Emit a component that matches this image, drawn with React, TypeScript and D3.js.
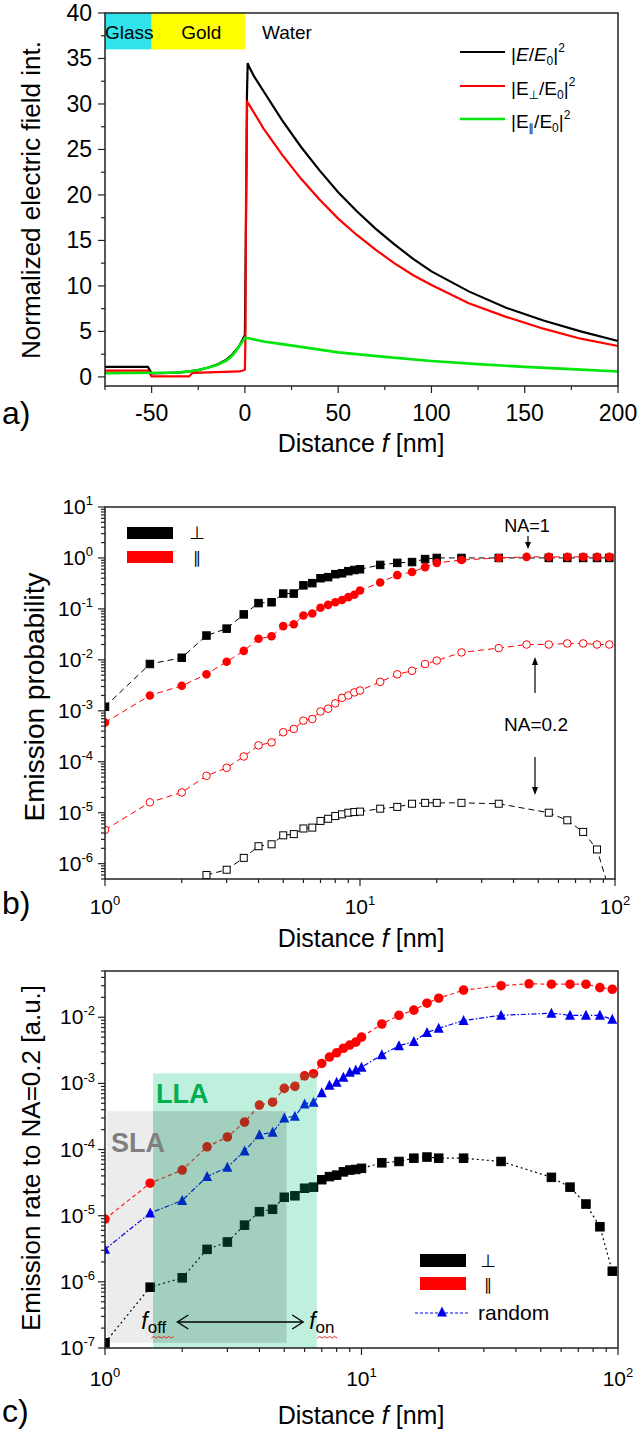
import React from "react";
import * as d3 from "d3";

const FONT = "'Liberation Sans', Arial, Helvetica, sans-serif";
const SYM = "'DejaVu Sans', 'Noto Sans', sans-serif";
const PAR = "∥";

// ---------------- Panel a data ----------------
const layerNames = ["Glass", "Gold", "Water"];
const layerFrom = [-75, -50, 0];
const layerTo = [-50, 0, 200];
const layerTop = 40;
const layerBottom = 36;
const aTicksX = [-50, 0, 50, 100, 150, 200];
const aMinorX = [-75, -25, 25, 75, 125, 175];
const aTicksY = [0, 5, 10, 15, 20, 25, 30, 35, 40];
const aMinorY = [2.5, 7.5, 12.5, 17.5, 22.5, 27.5, 32.5, 37.5];

const aTotalX = [-75, -52, -50, -45, -40, -35, -30, -25, -20, -15, -10, -7, -5, -3, -2, -1, 0, 0.8, 1.1, 1.5, 2, 5, 10, 20, 30, 40, 50, 60, 70, 80, 90, 100, 120, 140, 160, 180, 200];
const aTotalY = [1.1, 1.1, 0.4, 0.42, 0.45, 0.5, 0.6, 0.75, 1.0, 1.35, 1.9, 2.4, 2.9, 3.4, 3.8, 4.2, 4.6, 22, 31, 34.5, 34.2, 33.0, 31.4, 28.2, 25.3, 22.7, 20.3, 18.2, 16.3, 14.6, 13.0, 11.6, 9.4, 7.6, 6.2, 5.0, 3.95];

const aPerpX = [-75, -52, -50, -30, -28, -3, -1, 0, 0.3, 0.6, 1.2, 2, 5, 10, 20, 30, 40, 50, 60, 70, 80, 90, 100, 120, 140, 160, 180, 200];
const aPerpY = [0.7, 0.7, 0.05, 0.05, 0.45, 0.6, 0.7, 0.8, 4.5, 20, 30.2, 30.0, 29.0, 27.3, 24.4, 21.8, 19.5, 17.4, 15.6, 14.0, 12.5, 11.2, 10.1, 8.1, 6.6, 5.3, 4.2, 3.4];

const aParX = [-75, -50, -40, -35, -30, -25, -20, -15, -10, -7, -5, -3, -2, -1, 0, 2, 10, 20, 30, 50, 75, 100, 125, 150, 175, 200];
const aParY = [0.4, 0.45, 0.45, 0.5, 0.6, 0.75, 1.0, 1.3, 1.8, 2.3, 2.8, 3.4, 3.7, 4.0, 4.3, 4.25, 3.9, 3.6, 3.3, 2.7, 2.2, 1.75, 1.4, 1.1, 0.85, 0.6];

// ---------------- Panel b / c shared distances ----------------
const dist = [1, 1.5, 2, 2.5, 3, 3.5, 4, 4.5, 5, 5.5, 6, 6.5, 7, 7.5, 8, 8.5, 9, 9.5, 10, 12, 14, 16, 18, 20, 25, 35, 45, 55, 65, 75, 85, 95];

// Panel b: emission probability
const bPerpNA1 = [1.2e-3, 8.3e-3, 1.1e-2, 3.0e-2, 4.1e-2, 7.8e-2, 0.13, 0.135, 0.2, 0.2, 0.29, 0.32, 0.4, 0.42, 0.48, 0.5, 0.55, 0.58, 0.6, 0.73, 0.8, 0.83, 0.95, 1.0, 1.0, 1.0, null, 1.0, 1.0, 1.0, 1.0, 1.0];
const bParNA1 = [5.9e-4, 2.0e-3, 3.1e-3, 5.2e-3, 9.2e-3, 1.5e-2, 2.6e-2, 2.9e-2, 4.6e-2, 5.0e-2, 7.4e-2, 8.1e-2, 0.105, 0.12, 0.135, 0.15, 0.17, 0.19, 0.23, 0.33, 0.46, 0.53, 0.66, 0.8, 0.91, 1.0, 1.05, 1.05, 1.05, 1.05, 1.05, 1.05];
const bParNA02 = [4.6e-6, 1.6e-5, 2.5e-5, 5.3e-5, 7.6e-5, 1.27e-4, 2.1e-4, 2.4e-4, 3.8e-4, 4.4e-4, 6.4e-4, 6.9e-4, 9.7e-4, 1.1e-3, 1.4e-3, 1.8e-3, 2.0e-3, 2.3e-3, 2.5e-3, 3.7e-3, 5.2e-3, 6.1e-3, 8.3e-3, 9.7e-3, 1.4e-2, 1.7e-2, 2.0e-2, 2.0e-2, 2.1e-2, 2.1e-2, 2.0e-2, 2.0e-2];
const bPerpNA02 = [null, null, null, 6.0e-7, 7.6e-7, 1.3e-6, 2.2e-6, 2.4e-6, 3.6e-6, 3.8e-6, 4.9e-6, 5.1e-6, 6.9e-6, 7.6e-6, 8.6e-6, 9.3e-6, 1.0e-5, 1.03e-5, 1.05e-5, 1.2e-5, 1.3e-5, 1.5e-5, 1.56e-5, 1.56e-5, 1.56e-5, 1.5e-5, null, 1.0e-5, 7.1e-6, 4.2e-6, 1.9e-6, 3.0e-7];

// Panel c: emission rate to NA=0.2
const cPerp = [1.2e-7, 8.3e-7, 1.15e-6, 3.1e-6, 4.0e-6, 7.2e-6, 1.15e-5, 1.25e-5, 1.9e-5, 2.0e-5, 2.6e-5, 2.7e-5, 3.5e-5, 3.9e-5, 4.1e-5, 4.6e-5, 4.9e-5, 5.0e-5, 5.2e-5, 6.3e-5, 6.6e-5, 7.4e-5, 7.7e-5, 7.4e-5, 7.4e-5, 6.6e-5, null, 3.8e-5, 2.7e-5, 1.5e-5, 6.8e-6, 1.45e-6];
const cPar = [8.9e-6, 3.1e-5, 4.9e-5, 1.1e-4, 1.55e-4, 2.6e-4, 4.7e-4, 5.2e-4, 8.4e-4, 9.0e-4, 1.3e-3, 1.4e-3, 2.0e-3, 2.5e-3, 2.9e-3, 3.4e-3, 3.8e-3, 4.2e-3, 5.0e-3, 7.9e-3, 1.07e-2, 1.28e-2, 1.63e-2, 1.94e-2, 2.57e-2, 3.0e-2, 3.2e-2, 3.16e-2, 3.16e-2, 3.16e-2, 2.8e-2, 2.65e-2];
const cRandom = [3.1e-6, 1.1e-5, 1.7e-5, 3.9e-5, 5.4e-5, 9.5e-5, 1.68e-4, 1.82e-4, 3.0e-4, 3.2e-4, 4.9e-4, 5.2e-4, 7.2e-4, 9.4e-4, 1.04e-3, 1.24e-3, 1.47e-3, 1.6e-3, 1.75e-3, 2.7e-3, 3.7e-3, 4.3e-3, 5.9e-3, 6.8e-3, 8.9e-3, 1.07e-2, null, 1.15e-2, 1.07e-2, 1.07e-2, 1.07e-2, 9.3e-3];

// shaded zones in panel c
const slaX = [1, 5.1];
const slaY = [1.2e-7, 3.8e-4];
const llaX = [1.54, 6.7];
const llaY = [1e-7, 1.42e-3];
const fOff = 1.6;
const fOn = 6.6;

// ---------------- Scales ----------------
const xA = d3.scaleLinear().domain([-75, 200]).range([105, 618]);
const yA = d3.scaleLinear().domain([-1, 40]).range([386, 13]);
const xB = d3.scaleLog().domain([1, 100]).range([105, 615]);
const yB = d3.scaleLog().domain([5e-7, 10]).range([879, 507]);
const xC = d3.scaleLog().domain([1, 100]).range([105, 618]);
const yC = d3.scaleLog().domain([1e-7, 0.05]).range([1348, 971]);

function logTicks(lo: number, hi: number) {
  const out: { v: number; major: boolean; e: number }[] = [];
  for (let e = Math.floor(Math.log10(lo)); e <= Math.ceil(Math.log10(hi)); e++) {
    for (let k = 1; k < 10; k++) {
      const v = k * Math.pow(10, e);
      if (v >= lo * 0.999 && v <= hi * 1.001) out.push({ v, major: k === 1, e });
    }
  }
  return out;
}

function pairs(xs: number[], ys: (number | null)[]) {
  const out: [number, number][] = [];
  xs.forEach((x, i) => {
    const y = ys[i];
    if (y != null) out.push([x, y]);
  });
  return out;
}

function Pow({ x, y, e, anchor, size = 21 }: any) {
  return (
    <text x={x} y={y} textAnchor={anchor} fontSize={size} fontFamily={FONT} fill="#000">
      10
      <tspan dy={-size * 0.42} fontSize={size * 0.62}>{e}</tspan>
    </text>
  );
}

function LogAxes({ xs, ys, xLabY, yLabX, size = 21 }: any) {
  const [x0, x1] = xs.range();
  const [y0, y1] = ys.range();
  const xt = logTicks(xs.domain()[0], xs.domain()[1]);
  const yt = logTicks(ys.domain()[0], ys.domain()[1]);
  return (
    <g>
      <rect x={x0} y={y1} width={x1 - x0} height={y0 - y1} fill="none" stroke="#222" strokeWidth={1.5} />
      {xt.map((t, i) => (
        <line key={"x" + i} x1={xs(t.v)} x2={xs(t.v)} y1={y0} y2={y0 + (t.major ? 7 : 4)} stroke="#222" strokeWidth={1.2} />
      ))}
      {yt.map((t, i) => (
        <line key={"y" + i} y1={ys(t.v)} y2={ys(t.v)} x1={x0} x2={x0 - (t.major ? 7 : 4)} stroke="#222" strokeWidth={1.2} />
      ))}
      {xt.filter((t) => t.major).map((t, i) => (
        <Pow key={"xl" + i} x={xs(t.v)} y={xLabY} e={String(t.e)} anchor="middle" size={size} />
      ))}
      {yt.filter((t) => t.major).map((t, i) => (
        <Pow key={"yl" + i} x={yLabX} y={ys(t.v) + 7} e={String(t.e)} anchor="end" size={size} />
      ))}
    </g>
  );
}

function Sq({ cx, cy, s, fill, stroke }: any) {
  return <rect x={cx - s / 2} y={cy - s / 2} width={s} height={s} fill={fill} stroke={stroke} strokeWidth={1} />;
}
function Tri({ cx, cy, s, fill }: any) {
  const h = s * 0.9;
  return <path d={`M${cx},${cy - h / 2 - 1} L${cx + s / 2},${cy + h / 2} L${cx - s / 2},${cy + h / 2} Z`} fill={fill} />;
}

function Wavy({ x, y, w }: any) {
  let d = `M${x},${y}`;
  const n = Math.round(w / 2.5);
  for (let i = 1; i <= n; i++) d += ` L${x + i * 2.5},${y + (i % 2 ? -1.5 : 0)}`;
  return <path d={d} fill="none" stroke="#e03030" strokeWidth={1} />;
}

export default function App() {
  const lineA = d3.line<[number, number]>().x((d) => xA(d[0])).y((d) => yA(d[1]));
  const aTotal = pairs(aTotalX, aTotalY);
  const aPerp = pairs(aPerpX, aPerpY);
  const aPar = pairs(aParX, aParY);
  const layerColors = ["#30e4ea", "#ffff00", "none"];

  const lineB = d3.line<[number, number]>().x((d) => xB(d[0])).y((d) => yB(d[1]));
  const lineC = d3.line<[number, number]>().x((d) => xC(d[0])).y((d) => yC(d[1]));

  const bPN1 = pairs(dist, bPerpNA1);
  const bRN1 = pairs(dist, bParNA1);
  const bRN02 = pairs(dist, bParNA02);
  const bPN02 = pairs(dist, bPerpNA02);
  const cP = pairs(dist, cPerp);
  const cR = pairs(dist, cPar);
  const cRand = pairs(dist, cRandom);

  const bIn = (d: [number, number]) => d[1] >= yB.domain()[0];
  const cIn = (d: [number, number]) => d[1] >= yC.domain()[0];

  return (
    <svg width={639} height={1430} viewBox="0 0 639 1430" style={{ position: "absolute", left: 0, top: 0, background: "#fff" }} fontFamily={FONT}>
      <defs>
        <clipPath id="clipB"><rect x={105} y={507} width={510} height={372} /></clipPath>
        <clipPath id="clipC"><rect x={105} y={971} width={513} height={377} /></clipPath>
      </defs>
      <rect x={0} y={0} width={639} height={1430} fill="#fff" />

      {/* ================= Panel a ================= */}
      <g>
        {layerNames.map((n, i) => (
          <g key={n}>
            {layerColors[i] !== "none" && (
              <rect x={xA(layerFrom[i])} y={yA(layerTop)} width={xA(layerTo[i]) - xA(layerFrom[i])} height={yA(layerBottom) - yA(layerTop)} fill={layerColors[i]} />
            )}
          </g>
        ))}
        <text x={(xA(layerFrom[0]) + xA(layerTo[0])) / 2 + 1} y={39} textAnchor="middle" fontSize={19}>{layerNames[0]}</text>
        <text x={(xA(layerFrom[1]) + xA(layerTo[1])) / 2 + 3} y={39} textAnchor="middle" fontSize={19}>{layerNames[1]}</text>
        <text x={xA(layerFrom[2]) + 42} y={39} textAnchor="middle" fontSize={19}>{layerNames[2]}</text>

        <path d={lineA(aTotal) || ""} fill="none" stroke="#000" strokeWidth={2.2} />
        <path d={lineA(aPerp) || ""} fill="none" stroke="#ff0000" strokeWidth={2.2} />
        <path d={lineA(aPar) || ""} fill="none" stroke="#00e60a" strokeWidth={2.6} />

        <rect x={105} y={13} width={513} height={373} fill="none" stroke="#222" strokeWidth={1.5} />
        {aTicksX.map((t) => (
          <g key={"ax" + t}>
            <line x1={xA(t)} x2={xA(t)} y1={386} y2={393} stroke="#222" strokeWidth={1.2} />
            <text x={xA(t)} y={421} textAnchor="middle" fontSize={23}>{t}</text>
          </g>
        ))}
        {aMinorX.map((t) => (
          <line key={"amx" + t} x1={xA(t)} x2={xA(t)} y1={386} y2={390} stroke="#222" strokeWidth={1.2} />
        ))}
        {aTicksY.map((t) => (
          <g key={"ay" + t}>
            <line x1={105} x2={98} y1={yA(t)} y2={yA(t)} stroke="#222" strokeWidth={1.2} />
            <text x={92} y={yA(t) + 8} textAnchor="end" fontSize={23}>{t}</text>
          </g>
        ))}
        {aMinorY.map((t) => (
          <line key={"amy" + t} x1={105} x2={101} y1={yA(t)} y2={yA(t)} stroke="#222" strokeWidth={1.2} />
        ))}

        {/* legend */}
        <line x1={460} x2={505} y1={52} y2={52} stroke="#000" strokeWidth={2.2} />
        <line x1={460} x2={505} y1={86} y2={86} stroke="#ff0000" strokeWidth={2.2} />
        <line x1={460} x2={505} y1={119} y2={119} stroke="#00e60a" strokeWidth={2.6} />
        <text x={511} y={61} fontSize={19}>
          |<tspan fontStyle="italic">E</tspan>/<tspan fontStyle="italic">E</tspan>
          <tspan fontSize={12} dy={4}>0</tspan>
          <tspan dy={-4}>|</tspan>
          <tspan fontSize={12} dy={-9}>2</tspan>
        </text>
        <text x={511} y={95} fontSize={19}>
          |E<tspan fontSize={12} dy={4} fontFamily={SYM}>⊥</tspan>
          <tspan dy={-4}>/E</tspan>
          <tspan fontSize={12} dy={4}>0</tspan>
          <tspan dy={-4}>|</tspan>
          <tspan fontSize={12} dy={-9}>2</tspan>
        </text>
        <text x={511} y={128} fontSize={19}>
          |E<tspan fontSize={11} dy={4} fontFamily={SYM} fill="#000">{PAR}</tspan>
          <tspan dy={-4}>/E</tspan>
          <tspan fontSize={12} dy={4}>0</tspan>
          <tspan dy={-4}>|</tspan>
          <tspan fontSize={12} dy={-9}>2</tspan>
        </text>

        <text transform="translate(40,200) rotate(-90)" textAnchor="middle" fontSize={26}>Normalized electric field int.</text>
        <text x={361} y={452} textAnchor="middle" fontSize={25}>Distance <tspan fontStyle="italic">f</tspan> [nm]</text>
        <text x={2} y={424} fontSize={32}>a)</text>
      </g>

      {/* ================= Panel b ================= */}
      <g>
        <g clipPath="url(#clipB)">
          <path d={lineB(bPN1) || ""} fill="none" stroke="#000" strokeWidth={1} strokeDasharray="6,4" />
          <path d={lineB(bRN1) || ""} fill="none" stroke="#ff0000" strokeWidth={1} strokeDasharray="6,4" />
          <path d={lineB(bRN02) || ""} fill="none" stroke="#ff0000" strokeWidth={1} strokeDasharray="6,4" />
          <path d={lineB(bPN02) || ""} fill="none" stroke="#000" strokeWidth={1} strokeDasharray="6,4" />
          {bPN1.map((d, i) => <Sq key={"bp" + i} cx={xB(d[0])} cy={yB(d[1])} s={7.5} fill="#000" stroke="#000" />)}
          {bRN1.map((d, i) => <circle key={"br" + i} cx={xB(d[0])} cy={yB(d[1])} r={4.3} fill="#ff0000" />)}
          {bRN02.map((d, i) => <circle key={"bro" + i} cx={xB(d[0])} cy={yB(d[1])} r={3.8} fill="#fff" stroke="#ff0000" strokeWidth={1} />)}
          {bPN02.filter(bIn).map((d, i) => <Sq key={"bpo" + i} cx={xB(d[0])} cy={yB(d[1])} s={7} fill="#fff" stroke="#000" />)}
        </g>
        <LogAxes xs={xB} ys={yB} xLabY={914} yLabX={93} />

        {/* legend */}
        <rect x={127} y={527} width={46} height={12} fill="#000" />
        <rect x={127} y={551} width={46} height={12} fill="#ff0000" />
        <text x={197} y={539} textAnchor="middle" fontSize={18} fontFamily={SYM} fill="#000">⊥</text>
        <text x={197} y={563} textAnchor="middle" fontSize={16} fontFamily={SYM} fill="#000">{PAR}</text>

        {/* annotations */}
        <text x={527} y={532} textAnchor="middle" fontSize={18}>NA=1</text>
        <line x1={528} x2={528} y1={536} y2={544} stroke="#000" strokeWidth={1.2} />
        <path d="M525,542 L531,542 L528,549 Z" fill="#000" />
        <text x={536} y={731} textAnchor="middle" fontSize={19}>NA=0.2</text>
        <line x1={535} x2={535} y1={693} y2={663} stroke="#000" strokeWidth={1.2} />
        <path d="M532,665 L538,665 L535,657 Z" fill="#000" />
        <line x1={535} x2={535} y1={757} y2={789} stroke="#000" strokeWidth={1.2} />
        <path d="M532,787 L538,787 L535,795 Z" fill="#000" />

        <text transform="translate(44,697) rotate(-90)" textAnchor="middle" fontSize={28}>Emission probability</text>
        <text x={361} y={947} textAnchor="middle" fontSize={25}>Distance <tspan fontStyle="italic">f</tspan> [nm]</text>
        <text x={2} y={914} fontSize={32}>b)</text>
      </g>

      {/* ================= Panel c ================= */}
      <g>
        <rect x={xC(slaX[0]) + 2} y={yC(slaY[1])} width={xC(slaX[1]) - xC(slaX[0]) - 2} height={yC(slaY[0]) - yC(slaY[1])} fill="#ececec" />
        <g clipPath="url(#clipC)">
          <path d={lineC(cR) || ""} fill="none" stroke="#ff2020" strokeWidth={1.2} strokeDasharray="4,3" />
          <path d={lineC(cRand) || ""} fill="none" stroke="#0000ee" strokeWidth={1.2} strokeDasharray="5,2,1.5,2" />
          <path d={lineC(cP) || ""} fill="none" stroke="#000" strokeWidth={1.2} strokeDasharray="2,3" />
          {cR.map((d, i) => <circle key={"cr" + i} cx={xC(d[0])} cy={yC(d[1])} r={4.8} fill="#ff0000" />)}
          {cRand.map((d, i) => <Tri key={"ct" + i} cx={xC(d[0])} cy={yC(d[1])} s={10} fill="#0000ee" />)}
          {cP.filter(cIn).map((d, i) => <Sq key={"cp" + i} cx={xC(d[0])} cy={yC(d[1])} s={8.5} fill="#000" stroke="#000" />)}
        </g>
        <rect x={xC(llaX[0])} y={yC(llaY[1])} width={xC(llaX[1]) - xC(llaX[0])} height={yC(llaY[0]) - yC(llaY[1])} fill="rgb(0,190,120)" fillOpacity={0.25} />
        <rect x={xC(llaX[0])} y={yC(slaY[1])} width={xC(slaX[1]) - xC(llaX[0])} height={yC(slaY[0]) - yC(slaY[1])} fill="#000" fillOpacity={0.08} />
        <text x={111} y={1152} fontSize={27} fontWeight="bold" fill="#7f7f7f">SLA</text>
        <text x={156} y={1103} fontSize={27} fontWeight="bold" fill="#00b050">LLA</text>

        <LogAxes xs={xC} ys={yC} xLabY={1386} yLabX={95} />

        {/* f_off / f_on */}
        <line x1={xC(fOff) + 20} x2={xC(fOn) - 12} y1={1322} y2={1322} stroke="#000" strokeWidth={1.3} />
        <path d={`M${xC(fOff) + 31},${1315} L${xC(fOff) + 20},${1322} L${xC(fOff) + 31},${1329}`} fill="none" stroke="#000" strokeWidth={1.3} />
        <path d={`M${xC(fOn) - 23},${1315} L${xC(fOn) - 12},${1322} L${xC(fOn) - 23},${1329}`} fill="none" stroke="#000" strokeWidth={1.3} />
        <text x={xC(fOff) - 16} y={1329} fontSize={23}>
          <tspan fontStyle="italic">f</tspan>
          <tspan fontSize={17} dy={4}>off</tspan>
        </text>
        <text x={xC(fOn) - 6} y={1329} fontSize={23}>
          <tspan fontStyle="italic">f</tspan>
          <tspan fontSize={17} dy={4}>on</tspan>
        </text>
        <Wavy x={xC(fOff) - 6} y={1338} w={22} />
        <Wavy x={xC(fOn) + 2} y={1338} w={20} />

        {/* legend */}
        <rect x={420} y={1254} width={46} height={13} fill="#000" />
        <rect x={420} y={1277} width={46} height={13} fill="#ff0000" />
        <text x={488} y={1267} textAnchor="middle" fontSize={18} fontFamily={SYM} fill="#000">⊥</text>
        <text x={488} y={1290} textAnchor="middle" fontSize={16} fontFamily={SYM} fill="#000">{PAR}</text>
        <line x1={415} x2={470} y1={1313} y2={1313} stroke="#0000ee" strokeWidth={1.2} strokeDasharray="3,2" />
        <Tri cx={442} cy={1312} s={10} fill="#0000ee" />
        <text x={478} y={1320} fontSize={21}>random</text>

        <text transform="translate(40,1158) rotate(-90)" textAnchor="middle" fontSize={26}>Emission rate to NA=0.2 [a.u.]</text>
        <text x={361} y={1424} textAnchor="middle" fontSize={25}>Distance <tspan fontStyle="italic">f</tspan> [nm]</text>
        <text x={2} y={1422} fontSize={32}>c)</text>
      </g>
    </svg>
  );
}
